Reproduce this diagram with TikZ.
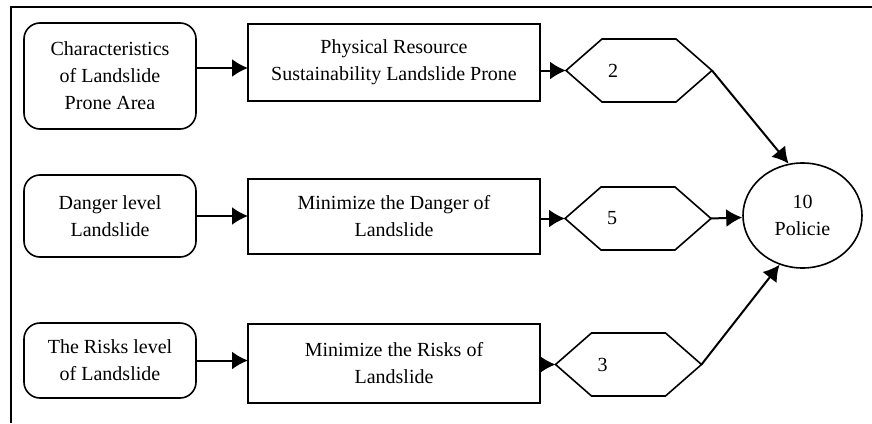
\documentclass[tikz,border=0pt]{standalone}
\usepackage{fontspec}
\setmainfont{Liberation Serif}
\usepackage{tikz}
\usetikzlibrary{arrows.meta,calc,positioning,shapes.geometric}
\tikzset{%
	startbox/.style = {draw, rectangle, rounded corners=8pt, minimum width=86pt, align=center, line width=0.8pt, outer sep=0pt},
	process/.style  = {draw, rectangle, minimum width=146pt, align=center, line width=0.8pt, outer sep=0pt},
	hexbox/.style   = {rectangle, minimum width=73pt, minimum height=31.5pt, inner xsep=21pt, text width=31pt, align=left, outer sep=0pt},
	policy/.style   = {draw, ellipse, minimum width=59.5pt, minimum height=52.5pt, inner sep=0pt, align=center, line width=0.8pt},
	flow/.style     = {line width=1pt, -{Latex[length=8pt,width=9pt]}},
}

\begin{document}
\begin{tikzpicture}[x=0.5pt,y=-0.5pt,font=\fontsize{10}{13.5}\selectfont]
	\useasboundingbox (0,0) rectangle (872,423);
	% frame
	\draw[line width=1pt] (11,423) -- (11,7) -- (872,7);
	% sources
	\node[startbox, minimum height=53pt] (c1) at (110,76) {Characteristics\\of Landslide\\Prone Area};
	\node[startbox, minimum height=41pt] (c2) at (110,216) {Danger level\\Landslide};
	\node[startbox, minimum height=37.5pt] (c3) at (110,360.5) {The Risks level\\of Landslide};
	% programs
	\node[process, minimum height=38.5pt] (p1) at (394,62.5) {Physical Resource\\Sustainability Landslide Prone};
	\node[process, minimum height=37.5pt] (p2) at (394,216.5) {Minimize the Danger of\\Landslide};
	\node[process, minimum height=39.5pt] (p3) at (394,363.5) {Minimize the Risks of\\Landslide};
	% counts
	\node[hexbox] (h2) at (639,70.5) {2};
	\node[hexbox] (h5) at (638,218.5) {5};
	\node[hexbox] (h3) at (628.5,364.5) {3};
	\foreach \h in {h2,h5,h3}
		\draw[line width=0.8pt] (\h.west) -- ([xshift=18pt]\h.north west) -- ([xshift=-18pt]\h.north east)
			-- (\h.east) -- ([xshift=-18pt]\h.south east) -- ([xshift=18pt]\h.south west) -- cycle;
	\node[policy] (pol) at (802.5,215.5) {10\\Policie};
	% connectors
	\draw[flow] ([yshift=4pt]c1.east) -- ([yshift=4pt]c1.east -| p1.west);
	\draw[flow] (c2.east) -- (c2.east -| p2.west);
	\draw[flow] (c3.east) -- (c3.east -| p3.west);
	\draw[flow] (p1.east |- h2.west) -- (h2.west);
	\draw[flow] (p2.east |- h5.west) -- (h5.west);
	\draw[flow] (p3.east |- h3.west) -- (h3.west);
	\draw[flow] (h2.east) -- (pol.105);
	\draw[flow] (h5.east) -- (pol);
	\draw[flow] (h3.east) -- (pol.245);
\end{tikzpicture}
\end{document}
